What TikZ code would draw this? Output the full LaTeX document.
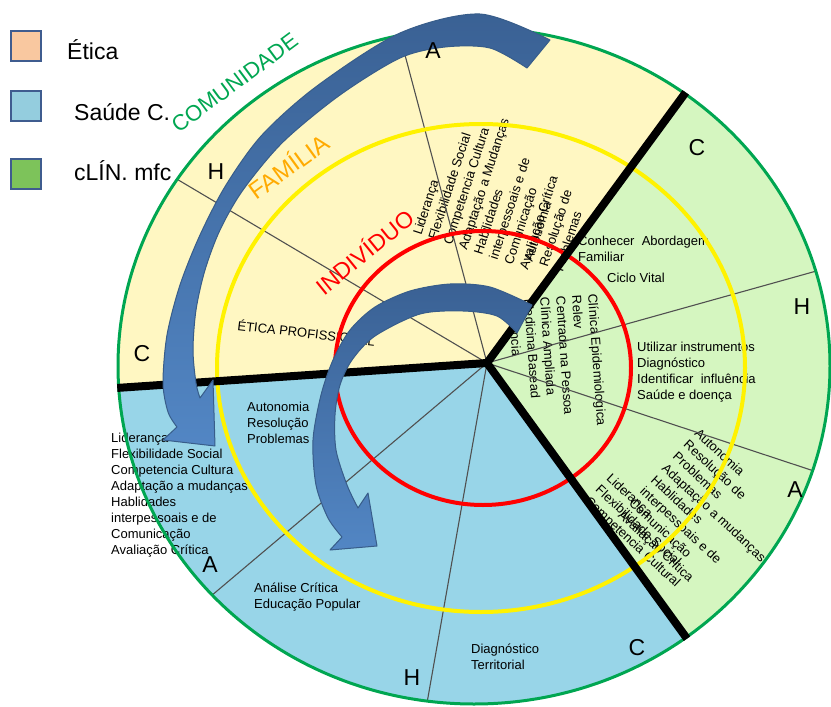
\documentclass[tikz,border=0pt]{standalone}
\usepackage{fontspec}
\setmainfont{Liberation Sans}
\definecolor{cream}{HTML}{FFF7C2}
\definecolor{lgreen}{HTML}{D5F6C0}
\definecolor{lblue}{HTML}{98D5E8}
\definecolor{cgreen}{HTML}{00A651}
\definecolor{forange}{HTML}{FFAA00}
\definecolor{thingray}{HTML}{505050}
\definecolor{arrtop}{HTML}{3A6194}
\definecolor{arrbot}{HTML}{5286C4}
\definecolor{arredge}{HTML}{385D8A}
\definecolor{legborder}{HTML}{3F5C8F}
\definecolor{legpeach}{HTML}{F9C8A0}
\definecolor{legblue}{HTML}{94CDDE}
\definecolor{leggreen}{HTML}{7DC35A}
\newcommand\mystrt{\rule{0pt}{1em}}
\begin{document}
\begin{tikzpicture}[x=1pt,y=-1pt,
  smalltxt/.style={font=\fontsize{13}{16}\selectfont, inner sep=0pt, align=left, anchor=north west},
  bigletter/.style={font=\fontsize{23}{27}\selectfont, inner sep=0pt},
  legtxt/.style={font=\fontsize{23}{27}\selectfont, inner sep=0pt, anchor=base west},
  legbox/.style={draw=legborder, line width=2pt, minimum size=30pt, inner sep=0pt},
  ringtitle/.style={inner sep=0pt, text height=0.72em, text depth=0pt},
  thinline/.style={draw=thingray, line width=1.1pt},
  thickline/.style={draw=black, line width=8pt},
  arrowshape/.style={draw=arredge, line width=1pt, top color=arrtop, bottom color=arrbot, line join=round},
]
\useasboundingbox (0,0) rectangle (831,707);

% named points
\coordinate (J) at (487,363);
\coordinate (TR) at (885,-179);
\coordinate (BR) at (889,917);
\coordinate (L) at (-255,413);
\coordinate (HUL) at (-137,-7);
\coordinate (ATOP) at (323,-253);
\coordinate (HR) at (1153,177);
\coordinate (ARL) at (1153,583);
\coordinate (ALL) at (-27,797);
\coordinate (HD) at (367,1043);

% sector fills
\begin{scope}
\clip (474,366) ellipse [x radius=356pt, y radius=338pt];
\fill[cream] (J) -- (L) -- (-300,-300) -- (TR) -- cycle;
\fill[lgreen] (J) -- (TR) -- (1300,-300) -- (1300,1300) -- (BR) -- cycle;
\fill[lblue] (J) -- (BR) -- (-300,1300) -- (L) -- cycle;
\end{scope}

% texts in the sectors
\node[smalltxt, rotate=72] (top1) at (408.7,231.8) {\mystrt Liderança\\Flexibilidade Social\\Competencia Cultura\\Adaptação a Mudanças\\Habilidades\\interpessoais e de\\Comunicação\\Avaliação Crítica};
\node[smalltxt, rotate=72] (top2) at (519.7,258.8) {\mystrt Autonomia\\Resolução de\\Problemas};
\node[smalltxt, rotate=-86] (rightv) at (601.2,293.5) {\mystrt Clínica Epidemiologica\\Relev\\Centrada na Pessoa\\Clínica Ampliada\\Medicina Basead\\Evidência};
\node[smalltxt, rotate=-43] (brA) at (702.7,424.4) {\mystrt Autonomia\\Resolução de\\Problemas\\Adaptação a mudanças\\Hablidades\\interpessoais e de\\Comunicação\\Avaliação Crítica};
\node[smalltxt, rotate=-43] (brB) at (614.7,469.4) {\mystrt Liderança\\Flexibilidade Social\\Competencia Cultural};
\node[smalltxt] (leftblk) at (111,429.5) {\mystrt Liderança\\Flexibilidade Social\\Competencia Cultura\\Adaptação a mudanças\\Hablidades\\interpessoais e de\\Comunicação\\Avaliação Crítica};
\node[smalltxt] (autores) at (247,398.5) {\mystrt Autonomia\\Resolução\\Problemas};
\node[smalltxt] (analise) at (254,579.5) {\mystrt Análise Crítica\\Educação Popular};
\node[smalltxt] (diag) at (471,640.5) {\mystrt Diagnóstico\\Territorial};
\node[smalltxt] (conhecer) at (578,232.5) {\mystrt Conhecer\ \ Abordagem\\Familiar};
\node[smalltxt] (ciclo) at (607,269.5) {\mystrt Ciclo Vital};
\node[smalltxt] (utilizar) at (637,338.5) {\mystrt Utilizar instrumentos\\Diagnóstico\\Identificar\ \ influência\\Saúde e doença};
\node[font=\fontsize{13}{16}\selectfont, inner sep=0pt, anchor=base west, rotate=-6.6] (etica) at (237,330) {ÉTICA PROFISSIONAL};

% thin dividing lines
\begin{scope}
\clip (474,366) ellipse [x radius=356pt, y radius=338pt];
\draw[thinline] (J) -- (HUL);
\draw[thinline] (J) -- (ATOP);
\draw[thinline] (J) -- (HR);
\draw[thinline] (J) -- (ARL);
\draw[thinline] (J) -- (ALL);
\draw[thinline] (J) -- (HD);
\end{scope}

% rings
\draw[yellow, line width=4pt] (481,368) ellipse [x radius=264pt, y radius=244pt];
\draw[red, line width=4pt] (483,368) ellipse [x radius=148pt, y radius=137pt];
\draw[cgreen, line width=3pt] (474,366) ellipse [x radius=356pt, y radius=338pt];

% thick black dividers
\begin{scope}
\clip (474,366) ellipse [x radius=357.5pt, y radius=339.5pt];
\draw[thickline] (TR) -- (J) -- (BR);
\draw[thickline] (J) -- (L);
\end{scope}

% ring titles
\node[ringtitle, font=\fontsize{22}{26}\selectfont, text=cgreen, rotate=36.5] (comu) at (237,86) {COMUNIDADE};
\node[ringtitle, font=\fontsize{24}{28}\selectfont, text=forange, rotate=36] (fam) at (292,171) {FAMÍLIA};
\node[ringtitle, font=\fontsize{23}{27}\selectfont, text=red, rotate=39] (ind) at (368,256) {INDIVÍDUO};

% big curved arrow
\path[arrowshape] plot[smooth] coordinates {(550,40) (480,14) (400,33) (317,86) (262,135) (226,185) (200,235) (180,285) (167,335) (163,383) (168,412) (177,427)}
  -- (163,440) -- (215,446) -- (213,380)
  -- plot[smooth] coordinates {(200,398) (196,383) (193,350) (196,310) (205,270) (220,230) (243,190) (283,142) (340,95) (400,58) (445,47) (490,48) (527,68)}
  -- cycle;

% inner curved arrow
\path[arrowshape] plot[smooth] coordinates {(532,305) (490,287) (450,284) (410,291) (375,307) (350,330) (333,360) (321,395) (313,440) (316,485) (328,518) (342,537)}
  -- (330,550) -- (377,546) -- (368,493)
  -- plot[smooth] coordinates {(358,508) (347,485) (336,450) (335,415) (340,385) (352,360) (375,336) (420,314) (463,311) (497,316) (517,333)}
  -- cycle;

% sector letters
\node[bigletter] (aTop) at (433,51) {A};
\node[bigletter] (hUL) at (216,172) {H};
\node[bigletter] (cL) at (142,354) {C};
\node[bigletter] (cTR) at (697,148) {C};
\node[bigletter] (hR) at (802,307) {H};
\node[bigletter] (aR) at (795,490) {A};
\node[bigletter] (aLL) at (210,565) {A};
\node[bigletter] (hD) at (412,678) {H};
\node[bigletter] (cB) at (637,648) {C};

% legend
\node[legbox, fill=legpeach] (leg1) at (26,46) {};
\node[legbox, fill=legblue] (leg2) at (26,106) {};
\node[legbox, fill=leggreen] (leg3) at (26,174) {};
\node[legtxt] (legt1) at (67,59) {Ética};
\node[legtxt] (legt2) at (74,120) {Saúde C.};
\node[legtxt] (legt3) at (74,180) {cLÍN. mfc};
\end{tikzpicture}
\end{document}
